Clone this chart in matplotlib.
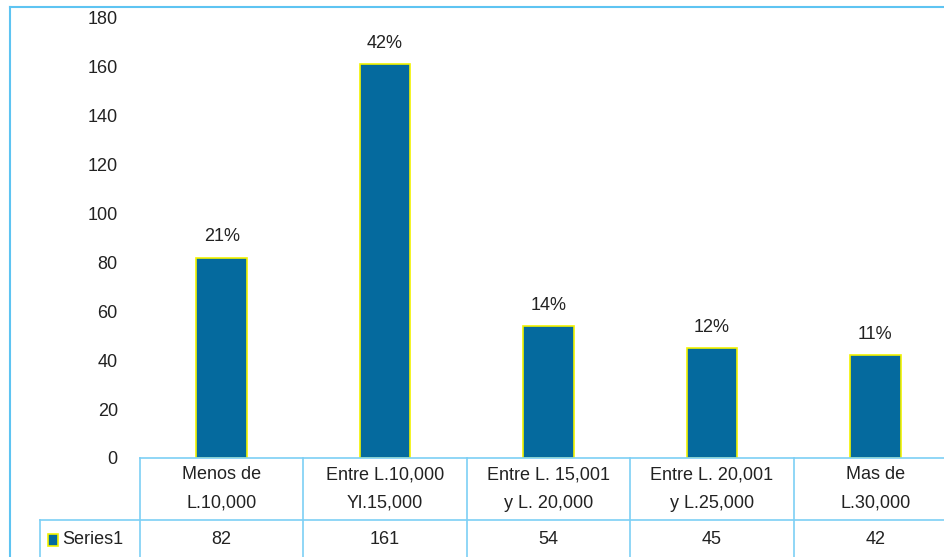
import matplotlib
matplotlib.use("Agg")
import matplotlib.pyplot as plt
from matplotlib.lines import Line2D
from matplotlib.patches import Rectangle
import matplotlib.transforms as mtransforms

categories = ["Menos de\nL.10,000", "Entre L.10,000\nYl.15,000", "Entre L. 15,001\ny L. 20,000",
              "Entre L. 20,001\ny L.25,000", "Mas de\nL.30,000"]
values = [82, 161, 54, 45, 42]
percent_labels = ["21%", "42%", "14%", "12%", "11%"]
series_name = "Series1"
yticks = [0, 20, 40, 60, 80, 100, 120, 140, 160, 180]

plt.rcParams['font.family'] = ['Liberation Sans', 'DejaVu Sans']
W, H = 945, 557
fig = plt.figure(figsize=(W/100, H/100), dpi=100)

bar_color = '#056A9E'
edge_color = '#F2F200'
line_color = '#7DCFF5'
border_color = '#5EC4F2'
text_color = '#222222'
fs = 13

left_px, bottom_px, top_px = 140, 458, 18
colw = 163.4
ax = fig.add_axes([left_px/W, (H-bottom_px)/H, 5*colw/W, (bottom_px-top_px)/H])
x = list(range(len(values)))
ax.bar(x, values, width=0.31, color=bar_color, edgecolor=edge_color, linewidth=1.2)
ax.set_xlim(-0.5, len(values)-0.5)
ax.set_ylim(0, 180)
ax.set_yticks(yticks)
ax.set_yticklabels([str(t) for t in yticks], fontsize=fs, color=text_color)
ax.tick_params(axis='y', length=0, pad=16)
ax.set_xticks([])
for s in ax.spines.values():
    s.set_visible(False)

for xi, v, p in zip(x, values, percent_labels):
    ax.annotate(p, (xi, v), xytext=(0, 9), textcoords='offset points', ha='center',
                va='bottom', fontsize=fs, color=text_color)

# data table
tr = mtransforms.blended_transform_factory(ax.transData, ax.transAxes)
ax_h = bottom_px - top_px
row1 = -(520 - bottom_px) / ax_h
fig_bottom = -(H - bottom_px + 5) / ax_h
x_left_tab = (40 - left_px) / colw - 0.5

lkw = dict(color=line_color, linewidth=1.2, transform=tr, clip_on=False)
ax.add_line(Line2D([-0.5, 4.5], [0, 0], **lkw))
ax.add_line(Line2D([x_left_tab, 4.5], [row1, row1], **lkw))
for b in [i - 0.5 for i in range(len(values)+1)]:
    ax.add_line(Line2D([b, b], [0, fig_bottom], **lkw))
ax.add_line(Line2D([x_left_tab, x_left_tab], [row1, fig_bottom], **lkw))

ymid1 = row1 / 2
ymid2 = -((539 - bottom_px) / ax_h)
for xi, c, v in zip(x, categories, values):
    ax.text(xi, ymid1, c, transform=tr, ha='center', va='center', fontsize=fs,
            color=text_color, linespacing=1.85, clip_on=False)
    ax.text(xi, ymid2, str(v), transform=tr, ha='center', va='center', fontsize=fs,
            color=text_color, clip_on=False)

# legend key in table
fig.add_artist(Rectangle((48/W, (H-546)/H), 10/W, 12/H, facecolor=bar_color,
                         edgecolor=edge_color, linewidth=1.2, transform=fig.transFigure))
fig.text(62/W, (H-539)/H, series_name, ha='left', va='center', fontsize=fs, color=text_color)

# outer border
fig.add_artist(Line2D([10/W, 10/W], [0, (H-7)/H], color=border_color, linewidth=1.5,
                      transform=fig.transFigure))
fig.add_artist(Line2D([10/W, 1.0], [(H-7)/H, (H-7)/H], color=border_color, linewidth=1.5,
                      transform=fig.transFigure))

fig.savefig("out.png", dpi=100, facecolor='white')
